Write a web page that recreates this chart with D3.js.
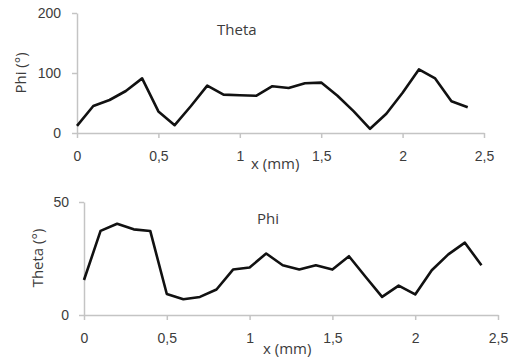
<!DOCTYPE html>
<html>
<head>
<meta charset="utf-8">
<script src="https://cdn.jsdelivr.net/npm/d3@7"></script>
<style>
  body { margin: 0; background: #fff; }
  svg { display: block; font-family: "Open Sans", "DejaVu Sans", sans-serif; }
  .axis path, .axis line { stroke: #c4c4c4; stroke-width: 1.5; }
  .axis text { fill: #3c3c3c; font-size: 14px; }
</style>
</head>
<body>
<div id="chart"></div>
<script>
// x positions (mm), shared by both panels
const xValues = [0, 0.1, 0.2, 0.3, 0.4, 0.5, 0.6, 0.7, 0.8, 0.9, 1.0, 1.1, 1.2,
                 1.3, 1.4, 1.5, 1.6, 1.7, 1.8, 1.9, 2.0, 2.1, 2.2, 2.3, 2.4];

// top panel ("Theta" title, Phi axis)
const phiValues = [12, 45, 55, 70, 91, 36, 13, 45, 79, 64, 63, 62, 78,
                   75, 83, 84, 62, 36, 7, 32, 67, 106, 91, 53, 43];

// bottom panel ("Phi" title, Theta axis)
const thetaValues = [15.5, 37.2, 40.4, 37.9, 37.2, 9.3, 7, 8, 11.3, 20.1, 21, 27.2, 22,
                     20.1, 22, 20.1, 26, 16.9, 8, 13, 9.1, 19.8, 26.8, 32, 22];

const xTicks = [0, 0.5, 1, 1.5, 2, 2.5];
const phiTicks = [0, 100, 200];
const thetaTicks = [0, 50];

const fmt = d => String(d).replace('.', ',');

const width = 512, height = 363;
const svg = d3.select('#chart').append('svg')
    .attr('width', width)
    .attr('height', height);

function drawPanel(cfg) {
    const x = d3.scaleLinear().domain([0, 2.5]).range([cfg.left, cfg.right]);
    const y = d3.scaleLinear().domain([0, cfg.yMax]).range([cfg.bottom, cfg.top]);

    // axes
    const xAxis = svg.append('g')
        .attr('class', 'axis')
        .attr('transform', `translate(0,${cfg.bottom})`)
        .call(d3.axisBottom(x).tickValues(xTicks).tickFormat(fmt)
            .tickSizeInner(5).tickSizeOuter(0).tickPadding(13));
    xAxis.selectAll('text').attr('dy', '0.71em');

    svg.append('g')
        .attr('class', 'axis')
        .attr('transform', `translate(${cfg.left},0)`)
        .call(d3.axisLeft(y).tickValues(cfg.yTicks)
            .tickSizeInner(5).tickSizeOuter(0).tickPadding(cfg.yPad));

    // line
    const line = d3.line()
        .x((d, i) => x(xValues[i]))
        .y(d => y(d));

    svg.append('path')
        .datum(cfg.values)
        .attr('fill', 'none')
        .attr('stroke', '#111')
        .attr('stroke-width', 2.6)
        .attr('stroke-linejoin', 'round')
        .attr('d', line);

    // title
    svg.append('text')
        .attr('x', cfg.titleX)
        .attr('y', cfg.titleY)
        .attr('fill', '#3c3c3c')
        .style('font-size', '15px')
        .text(cfg.title);

    // y label
    svg.append('text')
        .attr('transform', `translate(${cfg.yLabelX},${cfg.yLabelY}) rotate(-90)`)
        .attr('text-anchor', 'middle')
        .attr('dy', '0.35em')
        .attr('fill', '#3c3c3c')
        .style('font-size', '15px')
        .text(cfg.yLabel);

    // x label
    svg.append('text')
        .attr('x', cfg.xLabelX)
        .attr('y', cfg.xLabelY)
        .attr('dy', '0.35em')
        .attr('fill', '#3c3c3c')
        .style('font-size', '15px')
        .text('x (mm)');
}

drawPanel({
    left: 77, right: 484, top: 13, bottom: 133,
    yMax: 200, yTicks: phiTicks, yPad: 11,
    values: phiValues,
    title: 'Theta', titleX: 217, titleY: 35,
    yLabel: 'Phi (°)', yLabelX: 21, yLabelY: 73,
    xLabelX: 251, xLabelY: 164
});

drawPanel({
    left: 84, right: 498, top: 202, bottom: 315,
    yMax: 50, yTicks: thetaTicks, yPad: 10,
    values: thetaValues,
    title: 'Phi', titleX: 257, titleY: 224,
    yLabel: 'Theta (°)', yLabelX: 38, yLabelY: 258,
    xLabelX: 263, xLabelY: 349
});
</script>
</body>
</html>
